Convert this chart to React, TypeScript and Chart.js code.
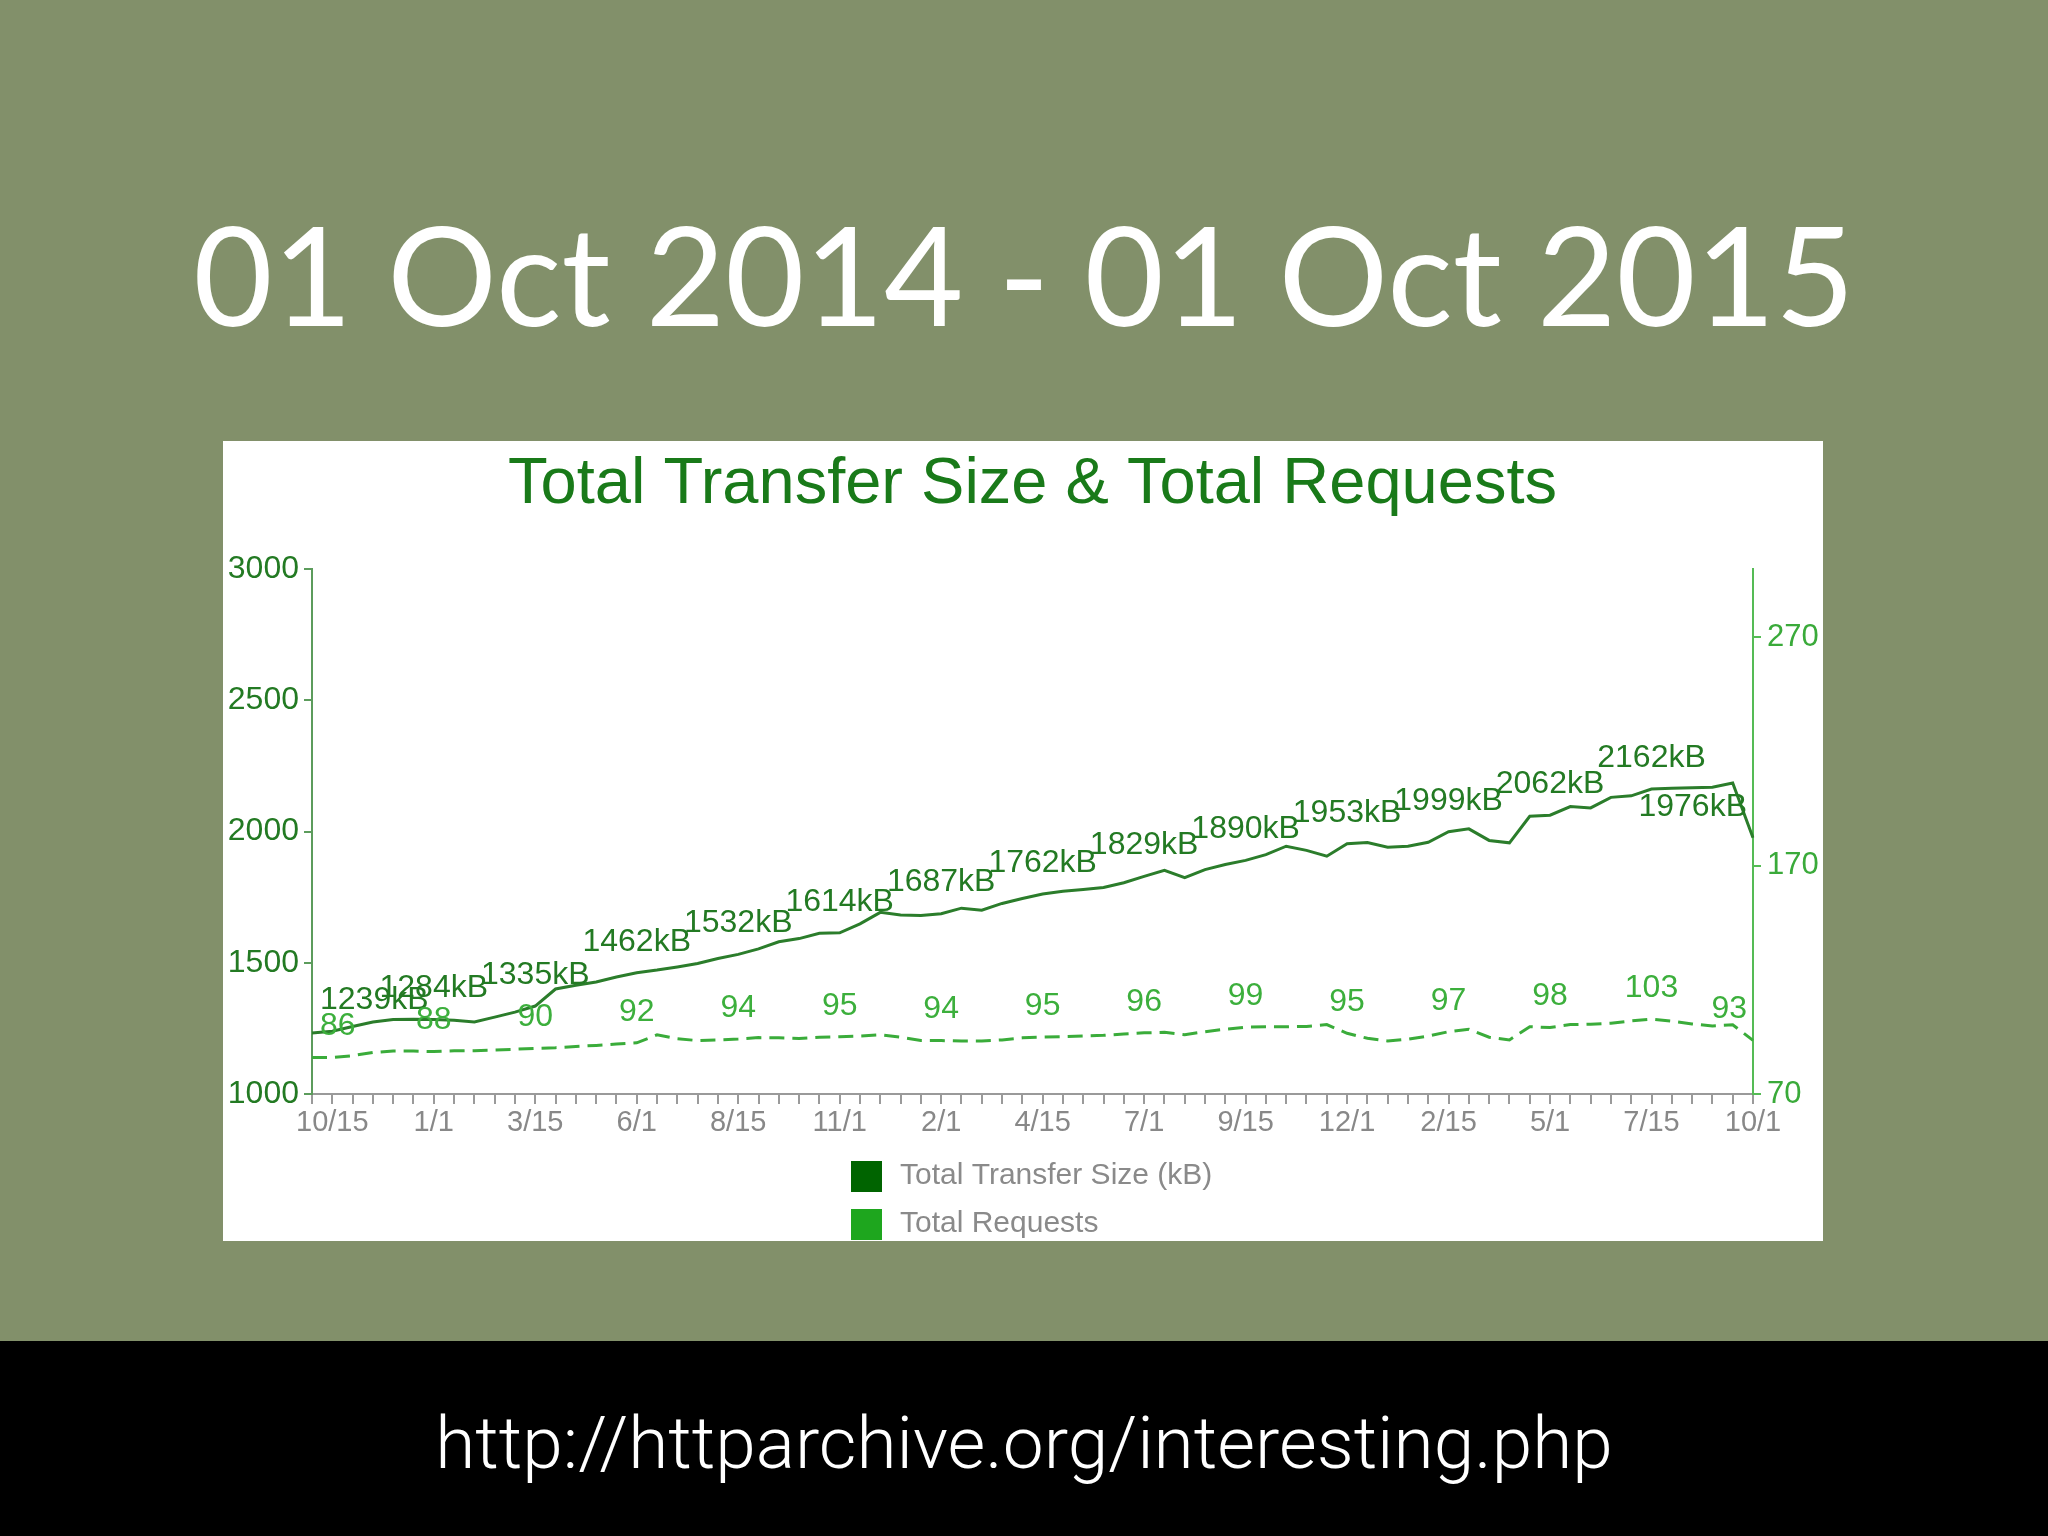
import React, { useEffect, useRef } from 'react';
import { Chart, registerables } from 'chart.js';

Chart.register(...registerables);

// ---- data ----
const tickLabels = ['10/15', '1/1', '3/15', '6/1', '8/15', '11/1', '2/1', '4/15', '7/1', '9/15', '12/1', '2/15', '5/1', '7/15', '10/1'];
const labelEvery = 5;
const labelOffset = 1;

const transferSize = [
  1232, 1239, 1257, 1274, 1284, 1285, 1284, 1281, 1274, 1293,
  1312, 1335, 1400, 1414, 1427, 1446, 1462, 1472, 1484, 1497,
  1516, 1532, 1553, 1580, 1592, 1612, 1614, 1648, 1692, 1682,
  1680, 1687, 1708, 1700, 1726, 1745, 1762, 1772, 1779, 1787,
  1805, 1829, 1852, 1824, 1855, 1874, 1890, 1912, 1944, 1928,
  1906, 1953, 1958, 1940, 1944, 1959, 1999, 2010, 1966, 1957,
  2058, 2062, 2095, 2090, 2130, 2136, 2162, 2165, 2167, 2169,
  2185, 1976,
];

const totalRequests = [
  86, 86, 86.8, 88.2, 88.8, 88.8, 88.6, 88.9, 89, 89.3,
  89.6, 90, 90.3, 90.8, 91.3, 91.9, 92.4, 95.9, 94.2, 93.4,
  93.7, 94.1, 94.7, 94.6, 94.3, 94.9, 95.1, 95.4, 95.9, 94.9,
  93.4, 93.4, 93.2, 93.2, 93.7, 94.6, 94.9, 95.1, 95.4, 95.7,
  96.3, 96.8, 97, 96, 97.3, 98.4, 99.3, 99.5, 99.5, 99.6,
  100.4, 96.6, 94.4, 93.2, 94, 95.4, 97.3, 98.4, 94.9, 93.7,
  99.5, 99.1, 100.4, 100.6, 101, 102, 102.8, 101.9, 100.7, 99.8,
  100.3, 93.5,
];

const sizeLabels = ['1239kB', '1284kB', '1335kB', '1462kB', '1532kB', '1614kB', '1687kB', '1762kB', '1829kB', '1890kB', '1953kB', '1999kB', '2062kB', '2162kB', '1976kB'];
const requestLabels = ['86', '88', '90', '92', '94', '95', '94', '95', '96', '99', '95', '97', '98', '103', '93'];

const sizeTicks = [1000, 1500, 2000, 2500, 3000];
const requestTicks = [70, 170, 270];

const seriesNames = ['Total Transfer Size (kB)', 'Total Requests'];
const legendColors = ['#006400', '#1ea61e'];

const categories = transferSize.map((_, i) =>
  i % labelEvery === labelOffset ? tickLabels[(i - labelOffset) / labelEvery] : ''
);

const FONT = '"Liberation Sans", Arial, Helvetica, sans-serif';

const valueLabelPlugin = {
  id: 'valueLabels',
  afterDatasetsDraw(chart: any) {
    const { ctx, chartArea } = chart;
    const sets = [
      { di: 0, texts: sizeLabels, color: '#237a23' },
      { di: 1, texts: requestLabels, color: '#3caf3c' },
    ];
    ctx.save();
    ctx.font = `32px ${FONT}`;
    ctx.textBaseline = 'middle';
    ctx.textAlign = 'left';
    sets.forEach((s) => {
      const meta = chart.getDatasetMeta(s.di);
      s.texts.forEach((t, k) => {
        const idx = labelOffset + k * labelEvery;
        const pt = meta.data[idx];
        if (!pt) return;
        const w = ctx.measureText(t).width;
        let x = pt.x - w / 2;
        x = Math.max(chartArea.left + 8, Math.min(x, chartArea.right - 6 - w));
        ctx.fillStyle = s.color;
        ctx.fillText(t, x, pt.y - 31);
      });
    });
    ctx.restore();
  },
};

const legendPlugin = {
  id: 'stackedLegend',
  afterDraw(chart: any) {
    const { ctx } = chart;
    ctx.save();
    ctx.font = `30px ${FONT}`;
    ctx.textBaseline = 'middle';
    ctx.textAlign = 'left';
    chart.data.datasets.forEach((ds: any, i: number) => {
      const top = 720 + i * 48;
      ctx.fillStyle = legendColors[i];
      ctx.fillRect(628, top, 31, 31);
      ctx.fillStyle = '#8a8a8a';
      ctx.fillText(ds.label, 677, top + 15);
    });
    ctx.restore();
  },
};

function TransferChart() {
  const ref = useRef<HTMLCanvasElement | null>(null);
  useEffect(() => {
    if (!ref.current) return;
    const chart = new Chart(ref.current, {
      type: 'line',
      data: {
        labels: categories,
        datasets: [
          {
            label: seriesNames[0],
            data: transferSize,
            yAxisID: 'ySize',
            borderColor: '#2b7d2b',
            borderWidth: 3,
            pointRadius: 0,
            tension: 0,
            fill: false,
          },
          {
            label: seriesNames[1],
            data: totalRequests,
            yAxisID: 'yReq',
            borderColor: '#3aac3a',
            borderWidth: 3,
            borderDash: [15, 8],
            pointRadius: 0,
            tension: 0,
            fill: false,
          },
        ],
      },
      options: {
        responsive: false,
        animation: false,
        devicePixelRatio: 1,
        layout: { padding: 0 },
        plugins: {
          legend: { display: false },
          tooltip: { enabled: false },
          title: {
            display: true,
            fullSize: false,
            text: 'Total Transfer Size & Total Requests',
            color: '#197a19',
            font: { family: FONT, size: 65, weight: 'normal', lineHeight: 1 },
            padding: { top: 12, bottom: 51 },
          },
        },
        scales: {
          x: {
            type: 'category',
            offset: false,
            afterFit: (s: any) => { s.height = 147; },
            grid: { drawOnChartArea: false, drawTicks: true, tickLength: 10, color: '#9a9a9a', lineWidth: 2 },
            border: { display: true, color: '#9a9a9a', width: 2 },
            ticks: {
              autoSkip: false,
              maxRotation: 0,
              minRotation: 0,
              padding: 2,
              color: '#888888',
              font: { family: FONT, size: 29 },
            },
          },
          ySize: {
            type: 'linear',
            position: 'left',
            min: 1000,
            max: 3000,
            afterFit: (s: any) => { s.width = 89; },
            afterBuildTicks: (s: any) => { s.ticks = sizeTicks.map((v) => ({ value: v })); },
            grid: { drawOnChartArea: false, tickLength: 8, color: '#5c9c5c', lineWidth: 2 },
            border: { display: true, color: '#5c9c5c', width: 2 },
            ticks: {
              padding: 5,
              color: '#237a23',
              font: { family: FONT, size: 32 },
              callback: (v: any) => String(v),
            },
          },
          yReq: {
            type: 'linear',
            position: 'right',
            min: 70,
            max: 300,
            afterFit: (s: any) => { s.width = 70; },
            afterBuildTicks: (s: any) => { s.ticks = requestTicks.map((v) => ({ value: v })); },
            grid: { drawOnChartArea: false, tickLength: 8, color: '#55bb55', lineWidth: 2 },
            border: { display: true, color: '#55bb55', width: 2 },
            ticks: {
              padding: 6,
              color: '#3aaa3a',
              font: { family: FONT, size: 31 },
              callback: (v: any) => String(v),
            },
          },
        },
      },
      plugins: [valueLabelPlugin, legendPlugin],
    });
    return () => chart.destroy();
  }, []);
  return <canvas ref={ref} width={1600} height={800} style={{ display: 'block', width: 1600, height: 800 }} />;
}

export default function App() {
  return (
    <div style={{ position: 'fixed', left: 0, top: 0, width: 2048, height: 1536, background: '#82906a', overflow: 'hidden' }}>
      <div
        style={{
          position: 'absolute', left: 0, top: 205, width: 2048, textAlign: 'center',
          color: '#ffffff', fontFamily: 'Lato, "Open Sans", sans-serif', fontWeight: 400,
          fontSize: 137, lineHeight: 1, whiteSpace: 'nowrap',
        }}
      >
        01 Oct 2014 - 01 Oct 2015
      </div>
      <div style={{ position: 'absolute', left: 223, top: 441, width: 1600, height: 800, background: '#ffffff', overflow: 'hidden' }}>
        <TransferChart />
      </div>
      <div style={{ position: 'absolute', left: 0, top: 1341, width: 2048, height: 195, background: '#000000' }} />
      <div
        style={{
          position: 'absolute', left: 0, top: 1407, width: 2048, textAlign: 'center',
          color: '#ffffff', fontFamily: 'Roboto, "Open Sans", sans-serif', fontWeight: 300,
          fontSize: 73, lineHeight: 1, whiteSpace: 'nowrap',
        }}
      >
        http://httparchive.org/interesting.php
      </div>
    </div>
  );
}
